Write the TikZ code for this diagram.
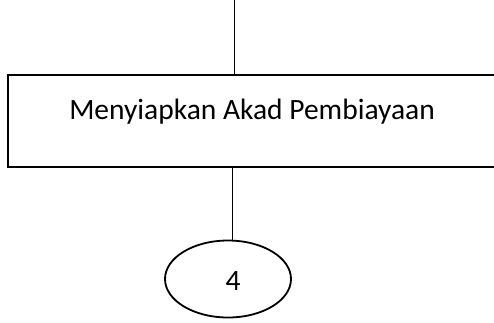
\documentclass[tikz,border=0pt]{standalone}
\usepackage{fontspec}
\setmainfont{Carlito}
\usetikzlibrary{shapes.geometric}
\begin{document}
\begin{tikzpicture}[x=1pt,y=-1pt,
  flowline/.style={draw=black,line width=0.9pt},
  procbox/.style={draw=black,line width=1.8pt,minimum width=494pt,minimum height=92pt,inner sep=0pt},
  connector/.style={ellipse,draw=black,line width=1.8pt,minimum width=126pt,minimum height=77pt,inner sep=0pt},
  bigtext/.style={font=\fontsize{29.5}{34}\selectfont}]
  \useasboundingbox (0,0) rectangle (494,322);
  \coordinate (top) at (234,0);
  % the process box runs on past the right edge of the page
  \node[procbox] (akad) at (255,121) {};
  \node[bigtext] (label) at (252,112) {Menyiapkan Akad Pembiayaan};
  \node[connector] (four) at (228,279) {};
  \node[bigtext] (num) at (233,281) {4};
  \coordinate (drop) at (232,0);
  \draw[flowline] (top) -- (top |- akad.north);
  \draw[flowline] (drop |- akad.south) -- (drop |- four.north);
\end{tikzpicture}
\end{document}
